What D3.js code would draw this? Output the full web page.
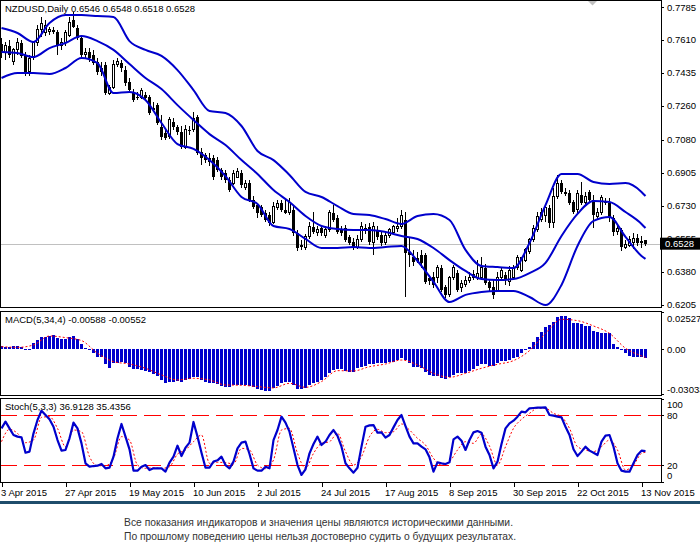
<!DOCTYPE html>
<html>
<head>
<meta charset="utf-8">
<script src="https://cdn.jsdelivr.net/npm/d3@7"></script>
<style>
  body { margin: 0; background: #fff; }
  svg { display: block; font-family: "Liberation Sans", Arial, sans-serif; }
</style>
</head>
<body>
<script>
// NZDUSD daily, 3 Apr 2015 .. 16 Nov 2015 (one value per bar)
const open = [
  .7588,.7546,.7578,.7493,.7557,.7594,.7525,.7440,.7519,.7594,.7668,.7652,.7657,.7663,.7652,.7583,.7594,.7636,.7716,.7673,
  .7620,.7535,.7546,.7530,.7493,.7461,.7477,.7328,.7360,.7482,.7487,.7450,.7387,.7334,.7307,.7307,.7318,.7307,.7249,.7264,
  .7148,.7116,.7095,.7174,.7148,.7121,.7041,.7132,.7132,.7201,.7015,.6999,.6983,.6983,.6972,.6919,.6903,.6866,.6850,.6882,
  .6903,.6824,.6850,.6760,.6733,.6723,.6691,.6680,.6643,.6718,.6744,.6707,.6691,.6707,.6585,.6521,.6510,.6564,.6617,.6585,
  .6611,.6569,.6601,.6691,.6664,.6601,.6611,.6564,.6537,.6510,.6548,.6611,.6617,.6532,.6601,.6574,.6532,.6574,.6585,.6606,
  .6617,.6654,.6484,.6457,.6452,.6468,.6468,.6346,.6351,.6346,.6399,.6298,.6256,.6346,.6372,.6293,.6309,.6335,.6351,.6346,
  .6351,.6399,.6325,.6298,.6282,.6351,.6362,.6325,.6346,.6399,.6388,.6441,.6484,.6548,.6601,.6654,.6680,.6718,.6638,.6776,
  .6850,.6803,.6797,.6749,.6707,.6787,.6749,.6803,.6760,.6670,.6691,.6755,.6744,.6664,.6595,.6601,.6510,.6521,.6532,.6558,
  .6542,.6546];
const high = [
  .7620,.7599,.7610,.7567,.7620,.7610,.7546,.7530,.7599,.7689,.7732,.7716,.7679,.7679,.7663,.7620,.7663,.7732,.7758,.7689,
  .7636,.7567,.7567,.7557,.7514,.7493,.7493,.7371,.7503,.7514,.7503,.7472,.7408,.7349,.7334,.7355,.7334,.7318,.7280,.7275,
  .7211,.7132,.7201,.7195,.7158,.7153,.7158,.7153,.7227,.7211,.7036,.7010,.7010,.6999,.6988,.6930,.6919,.6882,.6919,.6930,
  .6919,.6866,.6866,.6781,.6744,.6733,.6707,.6696,.6749,.6760,.6760,.6760,.6771,.6733,.6601,.6548,.6580,.6643,.6696,.6622,
  .6627,.6622,.6707,.6733,.6680,.6622,.6627,.6574,.6558,.6574,.6643,.6633,.6638,.6643,.6622,.6590,.6590,.6611,.6627,.6664,
  .6707,.6696,.6558,.6495,.6484,.6495,.6479,.6362,.6378,.6415,.6415,.6309,.6356,.6415,.6388,.6335,.6356,.6378,.6388,.6441,
  .6457,.6420,.6335,.6335,.6378,.6399,.6378,.6410,.6415,.6468,.6457,.6505,.6558,.6627,.6696,.6718,.6733,.6733,.6824,.6893,
  .6866,.6824,.6813,.6760,.6813,.6856,.6803,.6813,.6787,.6718,.6787,.6771,.6771,.6680,.6627,.6611,.6548,.6569,.6585,.6580,
  .6569,.6548];
const low = [
  .7514,.7503,.7514,.7477,.7530,.7514,.7418,.7418,.7503,.7578,.7625,.7631,.7636,.7641,.7530,.7557,.7578,.7625,.7673,.7610,
  .7519,.7514,.7493,.7477,.7424,.7418,.7318,.7318,.7349,.7466,.7440,.7365,.7328,.7280,.7291,.7296,.7291,.7211,.7227,.7158,
  .7079,.7079,.7084,.7132,.7105,.7031,.7031,.7105,.7121,.6999,.6946,.6956,.6941,.6866,.6909,.6866,.6850,.6803,.6840,.6877,
  .6824,.6813,.6749,.6712,.6664,.6670,.6643,.6622,.6633,.6707,.6696,.6686,.6680,.6569,.6489,.6495,.6495,.6553,.6580,.6569,
  .6569,.6558,.6590,.6643,.6580,.6569,.6537,.6521,.6495,.6500,.6537,.6580,.6521,.6468,.6548,.6516,.6521,.6558,.6574,.6590,
  .6606,.6245,.6404,.6410,.6426,.6399,.6314,.6309,.6293,.6319,.6272,.6240,.6245,.6335,.6272,.6272,.6298,.6319,.6335,.6335,
  .6335,.6309,.6272,.6234,.6272,.6335,.6309,.6303,.6335,.6388,.6378,.6431,.6473,.6537,.6590,.6643,.6643,.6611,.6611,.6765,
  .6792,.6781,.6733,.6686,.6691,.6733,.6739,.6749,.6611,.6654,.6680,.6733,.6643,.6569,.6574,.6489,.6500,.6510,.6500,.6516,
  .6505,.6518];
const close = [
  .7546,.7578,.7530,.7557,.7594,.7525,.7440,.7514,.7594,.7668,.7695,.7689,.7663,.7652,.7583,.7599,.7647,.7705,.7679,.7620,
  .7530,.7546,.7514,.7487,.7440,.7440,.7328,.7355,.7477,.7493,.7461,.7381,.7344,.7291,.7302,.7344,.7302,.7222,.7238,.7169,
  .7095,.7089,.7185,.7148,.7121,.7041,.7137,.7126,.7195,.7010,.6983,.6972,.6962,.6882,.6919,.6882,.6866,.6813,.6903,.6909,
  .6840,.6850,.6760,.6723,.6691,.6680,.6654,.6638,.6723,.6744,.6707,.6691,.6749,.6585,.6505,.6510,.6564,.6617,.6590,.6601,
  .6585,.6601,.6691,.6654,.6590,.6585,.6548,.6532,.6510,.6548,.6617,.6606,.6537,.6617,.6564,.6532,.6574,.6601,.6617,.6617,
  .6680,.6479,.6468,.6431,.6436,.6426,.6325,.6330,.6309,.6404,.6282,.6256,.6346,.6399,.6282,.6319,.6335,.6351,.6362,.6372,
  .6404,.6319,.6293,.6256,.6351,.6388,.6335,.6388,.6404,.6452,.6452,.6495,.6548,.6611,.6670,.6696,.6718,.6638,.6776,.6850,
  .6803,.6792,.6744,.6696,.6797,.6744,.6776,.6760,.6680,.6696,.6771,.6744,.6664,.6590,.6611,.6510,.6526,.6548,.6558,.6532,
  .6532,.6528];

// Bollinger bands, read every 4th bar (last point = last bar)
const bandBars = [0,4,8,12,16,20,24,28,32,36,40,44,48,52,56,60,64,68,72,76,80,84,88,92,96,100,104,108,112,116,120,124,128,132,136,140,144,148,152,156,160,161];
const bandUpper = [
  .7673,.7647,.7599,.7700,.7742,.7742,.7737,.7732,.7604,.7557,.7525,.7450,.7344,.7233,.7222,.7153,.7020,.6972,.6893,.6803,
  .6776,.6728,.6686,.6680,.6659,.6633,.6675,.6686,.6654,.6495,.6410,.6404,.6399,.6532,.6733,.6898,.6898,.6856,.6845,.6850,
  .6803,.6781];
const bandMiddle = [
  .7546,.7541,.7519,.7567,.7594,.7631,.7604,.7557,.7482,.7408,.7349,.7264,.7185,.7110,.7052,.6972,.6898,.6813,.6749,.6675,
  .6622,.6606,.6601,.6601,.6590,.6569,.6553,.6505,.6441,.6383,.6340,.6335,.6340,.6372,.6426,.6569,.6686,.6755,.6749,.6696,
  .6633,.6611];
const bandLower = [
  .7408,.7434,.7434,.7429,.7461,.7514,.7487,.7328,.7334,.7291,.7169,.7057,.7031,.6972,.6887,.6776,.6739,.6622,.6606,.6553,
  .6505,.6505,.6510,.6505,.6510,.6516,.6436,.6325,.6218,.6256,.6272,.6277,.6277,.6245,.6202,.6309,.6516,.6649,.6670,.6564,
  .6463,.6447];

// MACD(5,34,4): histogram per bar, signal read every 4th bar
const macdMain = [
  .0025,.0018,.0018,.0025,.0025,.0013,.0004,.0002,.0040,.0063,.0081,.0086,.0092,.0094,.0079,.0068,.0072,.0086,.0090,.0070,
  .0036,.0007,-.0002,-.0027,-.0050,-.0054,-.0100,-.0124,-.0095,-.0095,-.0084,-.0095,-.0118,-.0134,-.0134,-.0140,-.0145,-.0152,-.0167,-.0181,
  -.0208,-.0231,-.0219,-.0219,-.0215,-.0219,-.0208,-.0201,-.0190,-.0190,-.0208,-.0219,-.0226,-.0231,-.0238,-.0247,-.0258,-.0258,-.0242,-.0242,
  -.0242,-.0242,-.0249,-.0258,-.0271,-.0276,-.0280,-.0285,-.0265,-.0249,-.0231,-.0219,-.0224,-.0242,-.0271,-.0271,-.0265,-.0242,-.0231,-.0219,
  -.0208,-.0190,-.0158,-.0140,-.0136,-.0134,-.0145,-.0152,-.0152,-.0129,-.0118,-.0111,-.0102,-.0100,-.0095,-.0095,-.0091,-.0086,-.0084,-.0073,
  -.0061,-.0073,-.0095,-.0118,-.0122,-.0125,-.0152,-.0174,-.0179,-.0181,-.0197,-.0204,-.0190,-.0174,-.0163,-.0163,-.0158,-.0145,-.0136,-.0111,
  -.0100,-.0102,-.0111,-.0113,-.0095,-.0079,-.0079,-.0073,-.0061,-.0050,-.0027,-.0005,.0018,.0047,.0086,.0120,.0149,.0165,.0187,.0217,
  .0228,.0226,.0210,.0181,.0181,.0172,.0160,.0158,.0124,.0120,.0108,.0108,.0108,.0036,.0018,-.0005,-.0027,-.0045,-.0050,-.0050,
  -.0054,-.00588];
const macdSignal = [
  .0018,.0013,.0029,.0090,.0079,.0059,-.0027,-.0084,-.0100,-.0129,-.0174,-.0208,-.0197,-.0208,-.0242,-.0244,-.0253,-.0262,-.0231,-.0258,
  -.0219,-.0145,-.0147,-.0118,-.0100,-.0073,-.0106,-.0163,-.0190,-.0163,-.0129,-.0102,-.0077,-.0009,.0108,.0203,.0194,.0158,.0108,.0007,
  -.0045,-.00552];

// Stochastic(5,3,3): main per bar, signal read every 2nd bar
const stochMain = [
  64.3,72.4,64.3,56.3,54.3,53.5,34.9,36.2,58.3,74.4,85.7,80.4,75.2,66.3,50.2,37.4,38.2,52.3,71.2,64.3,
  46.2,22.1,18.0,18.8,19.2,21.3,16.0,16.8,30.1,52.3,69.6,54.3,39.0,13.2,13.2,18.0,20.0,14.0,16.0,16.0,
  16.0,12.0,22.9,30.1,43.4,30.9,41.0,47.0,72.0,54.3,34.9,16.8,16.8,24.1,25.7,30.1,20.0,16.0,24.1,40.2,
  47.0,48.2,33.3,16.0,13.2,13.2,18.0,16.0,50.2,62.3,78.4,71.2,60.3,40.2,20.0,8.0,14.8,34.1,45.4,54.3,
  44.2,48.2,56.3,62.3,55.1,42.2,22.1,16.0,10.8,16.8,42.2,66.3,67.9,68.3,59.1,59.5,53.1,56.3,65.5,74.4,
  80.4,67.1,54.3,46.2,46.2,42.2,39.0,29.3,12.0,23.3,22.1,21.3,23.3,51.0,54.3,49.4,38.2,50.2,59.5,61.1,
  59.1,42.2,32.1,16.0,24.1,45.4,64.3,70.4,73.6,78.4,84.5,83.7,88.5,88.9,89.3,89.3,89.7,80.4,79.6,78.4,
  77.6,66.3,56.3,39.0,30.9,36.2,42.2,37.4,34.9,32.1,48.2,55.5,56.3,42.2,22.1,13.2,12.0,12.0,22.1,32.1,
  37.4,36.9128];
const stochSigBars = d3.range(0, 162, 2).concat([161]);
const stochSignal = [
  48.2,63.1,58.3,47.0,50.2,77.6,78.4,64.3,42.2,62.3,60.3,30.1,19.2,19.2,28.1,54.3,50.2,20.0,16.0,16.8,
  16.0,18.0,33.3,38.2,48.2,56.3,22.1,23.3,22.9,21.3,40.2,38.2,20.0,15.6,26.1,62.3,64.3,34.1,16.0,34.1,
  46.2,48.2,58.3,36.2,20.0,30.1,54.3,63.1,59.1,60.3,69.6,62.3,52.3,44.2,28.1,20.0,24.1,38.2,48.2,46.2,
  57.5,42.9,20.0,42.2,64.3,75.2,82.4,88.5,88.5,82.4,78.4,64.3,42.2,38.2,36.2,42.2,50.2,38.2,14.0,20.0,
  34.1,35.4356];

const dateLabels = ["3 Apr 2015","27 Apr 2015","19 May 2015","10 Jun 2015","2 Jul 2015","24 Jul 2015",
  "17 Aug 2015","8 Sep 2015","30 Sep 2015","22 Oct 2015","13 Nov 2015"];
const dateBars = [0,16,32,48,64,80,96,112,128,144,160];
const priceTicks = [0.7785,0.7610,0.7435,0.7260,0.7080,0.6905,0.6730,0.6555,0.6380,0.6205];
const macdTicks = [0.02527, 0, -0.03033];
const stochTicks = [100, 80, 20, 0];
const stochLevels = [80, 20];

const W = 700, H = 552, RIGHT = 661;
const main = {top: 0.5, bottom: 307.5};
const macdP = {top: 311.5, bottom: 395.5};
const stochP = {top: 398.5, bottom: 482.5};
const blue = "#0000cc", red = "#ff0000";

const svg = d3.select("body").append("svg").attr("width", W).attr("height", H);

const x = d3.scaleLinear().domain([0, 160]).range([1.5, 641.5]);
const yP = d3.scaleLinear().domain([0.6205, 0.7785]).range([304.5, 7]);
const yM = d3.scaleLinear().domain([-0.03033, 0.02527]).range([394, 312]);
const yS = d3.scaleLinear().domain([0, 100]).range([481.6, 398.8]);

const defs = svg.append("defs");
[["clipMain", main], ["clipMacd", macdP], ["clipStoch", stochP]].forEach(([id, p]) => {
  defs.append("clipPath").attr("id", id).append("rect")
    .attr("x", 0).attr("y", p.top).attr("width", RIGHT).attr("height", p.bottom - p.top);
});

// ---- main panel ----
const gMain = svg.append("g").attr("clip-path", "url(#clipMain)");
const last = close[close.length - 1];
gMain.append("line").attr("x1", 0).attr("x2", RIGHT)
  .attr("y1", Math.round(yP(last)) + 0.5).attr("y2", Math.round(yP(last)) + 0.5)
  .attr("stroke", "#c0c0c0");

const idx = d3.range(close.length);
const candles = gMain.append("g").attr("shape-rendering", "crispEdges");
candles.selectAll("line.wick").data(idx).join("line").attr("class", "wick")
  .attr("x1", i => x(i)).attr("x2", i => x(i))
  .attr("y1", i => yP(high[i])).attr("y2", i => yP(low[i]))
  .attr("stroke", "#000");
candles.selectAll("rect.body").data(idx).join("rect").attr("class", "body")
  .attr("x", i => close[i] >= open[i] ? x(i) - 1 : x(i) - 1.5)
  .attr("width", i => close[i] >= open[i] ? 2 : 3)
  .attr("y", i => yP(Math.max(open[i], close[i])))
  .attr("height", i => Math.max(1, yP(Math.min(open[i], close[i])) - yP(Math.max(open[i], close[i]))))
  .attr("fill", i => close[i] >= open[i] ? "#fff" : "#000")
  .attr("stroke", i => close[i] >= open[i] ? "#000" : "none");

const bandLine = vals => d3.line().x((d, k) => x(bandBars[k])).y(d => yP(d)).curve(d3.curveMonotoneX)(vals);
[bandUpper, bandMiddle, bandLower].forEach(v => {
  gMain.append("path").attr("d", bandLine(v)).attr("fill", "none")
    .attr("stroke", blue).attr("stroke-width", 2);
});

// chart shift marker
svg.append("path").attr("d", "M588,1 L597,1 L592.5,5.5 Z").attr("fill", "#c0c0c0");

// ---- MACD panel ----
const gMacd = svg.append("g").attr("clip-path", "url(#clipMacd)");
gMacd.append("g").attr("shape-rendering", "crispEdges")
  .selectAll("rect").data(macdMain).join("rect")
  .attr("x", (d, i) => x(i) - 1.5).attr("width", 3)
  .attr("y", d => Math.min(yM(d), yM(0)))
  .attr("height", d => Math.max(1, Math.abs(yM(d) - yM(0))))
  .attr("fill", blue);
gMacd.append("path")
  .attr("d", d3.line().x((d, k) => x(bandBars[k])).y(d => yM(d)).curve(d3.curveMonotoneX)(macdSignal))
  .attr("fill", "none").attr("stroke", red).attr("stroke-width", 1).attr("stroke-dasharray", "2,2");

// ---- Stochastic panel ----
const gSt = svg.append("g").attr("clip-path", "url(#clipStoch)");
stochLevels.forEach(v => {
  gSt.append("line").attr("x1", 0).attr("x2", RIGHT)
    .attr("y1", Math.round(yS(v)) + 0.5).attr("y2", Math.round(yS(v)) + 0.5)
    .attr("stroke", red).attr("stroke-width", 1).attr("stroke-dasharray", "17,7")
    .attr("shape-rendering", "crispEdges");
});
gSt.append("path")
  .attr("d", d3.line().x((d, k) => x(stochSigBars[k])).y(d => yS(d)).curve(d3.curveMonotoneX)(stochSignal))
  .attr("fill", "none").attr("stroke", red).attr("stroke-width", 1).attr("stroke-dasharray", "2,2");
gSt.append("path")
  .attr("d", d3.line().x((d, i) => x(i)).y(d => yS(d))(stochMain))
  .attr("fill", "none").attr("stroke", blue).attr("stroke-width", 2.2).attr("stroke-linejoin", "round");

// ---- frames ----
[main, macdP, stochP].forEach(p => {
  svg.append("rect").attr("x", 0.5).attr("y", p.top).attr("width", RIGHT - 0.5).attr("height", p.bottom - p.top)
    .attr("fill", "none").attr("stroke", "#000").attr("shape-rendering", "crispEdges");
});

// ---- axes ----
function styleAxis(g) {
  g.select(".domain").remove();
  g.selectAll(".tick line").attr("stroke", "#000").attr("shape-rendering", "crispEdges");
  g.selectAll(".tick text").attr("fill", "#000").attr("font-size", "9.5px")
    .attr("font-family", "'Liberation Sans', Arial, sans-serif");
}
const axP = svg.append("g").attr("transform", `translate(${RIGHT},0)`)
  .call(d3.axisRight(yP).tickValues(priceTicks).tickSize(3).tickPadding(3).tickFormat(d => d.toFixed(4)));
styleAxis(axP);

const axM = svg.append("g").attr("transform", `translate(${RIGHT},0)`)
  .call(d3.axisRight(yM).tickValues(macdTicks).tickSize(3).tickPadding(3)
    .tickFormat(d => d === 0 ? "0.00" : d.toFixed(5)));
styleAxis(axM);
axM.selectAll(".tick text").attr("dy", d => d > 0 ? "0.95em" : d < 0 ? "-0.15em" : "0.32em");

const axS = svg.append("g").attr("transform", `translate(${RIGHT},0)`)
  .call(d3.axisRight(yS).tickValues(stochTicks).tickSize(3).tickPadding(3));
styleAxis(axS);
axS.selectAll(".tick text").attr("dy", d => d === 100 ? "0.9em" : d === 0 ? "-0.3em" : "0.32em");

const axX = svg.append("g").attr("transform", `translate(0,${stochP.bottom})`)
  .call(d3.axisBottom(x).tickValues(dateBars).tickSize(4).tickPadding(3)
    .tickFormat(i => dateLabels[dateBars.indexOf(i)]));
styleAxis(axX);
axX.selectAll(".tick text").attr("text-anchor", "start").attr("dx", -1);

// current price tag
const tagY = yP(last);
svg.append("rect").attr("x", 660).attr("y", tagY - 6).attr("width", 40).attr("height", 12).attr("fill", "#000");
svg.append("text").attr("x", 665).attr("y", tagY + 3.5).attr("fill", "#fff")
  .attr("font-size", "9.5px").text(last.toFixed(4));

// ---- titles ----
const n = close.length - 1;
svg.append("text").attr("x", 5).attr("y", 11.5).attr("font-size", "9.5px").attr("fill", "#000")
  .text(`NZDUSD,Daily  ${open[n].toFixed(4)} ${high[n].toFixed(4)} ${low[n].toFixed(4)} ${close[n].toFixed(4)}`);
svg.append("text").attr("x", 5).attr("y", 323).attr("font-size", "9.5px").attr("fill", "#000")
  .text(`MACD(5,34,4) ${macdMain[n].toFixed(5)} ${macdSignal[macdSignal.length - 1].toFixed(5)}`);
svg.append("text").attr("x", 5).attr("y", 410).attr("font-size", "9.5px").attr("fill", "#000")
  .text(`Stoch(5,3,3) ${stochMain[n].toFixed(4)} ${stochSignal[stochSignal.length - 1].toFixed(4)}`);

// bottom rule and disclaimer
svg.append("rect").attr("x", 0).attr("y", 501).attr("width", W).attr("height", 3).attr("fill", "#1f4d6b");
svg.append("text").attr("x", 124).attr("y", 526).attr("font-size", "11px").attr("fill", "#333")
  .attr("textLength", 389).attr("lengthAdjust", "spacingAndGlyphs")
  .text("Все показания индикаторов и значения цены являются историческими данными.");
svg.append("text").attr("x", 124).attr("y", 539.5).attr("font-size", "11px").attr("fill", "#333")
  .attr("textLength", 392).attr("lengthAdjust", "spacingAndGlyphs")
  .text("По прошлому поведению цены нельзя достоверно судить о будущих результатах.");
</script>
</body>
</html>
